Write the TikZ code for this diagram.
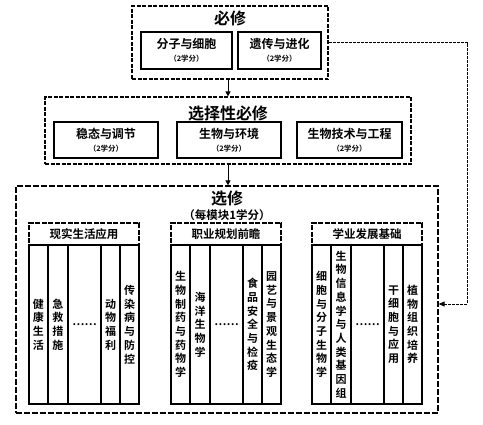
\documentclass[tikz,border=0pt]{standalone}
\usepackage{fontspec}
\setmainfont{Noto Sans CJK SC}[BoldFont={Noto Sans CJK SC Bold}]
\XeTeXlinebreaklocale "zh"
\XeTeXlinebreakskip=0pt plus 1pt
\usetikzlibrary{arrows.meta,positioning}

\begin{document}
\begin{tikzpicture}[
    x=1pt, y=-1pt,
    font=\bfseries,
    outerbox/.style={draw, dash pattern=on 4pt off 1.5pt, line width=1.2pt, inner sep=0pt},
    subbox/.style={draw, dash pattern=on 5pt off 1.5pt, line width=1.2pt, inner sep=0pt},
    course/.style={draw, line width=1.4pt, align=center, inner sep=0pt, minimum height=37pt,
        font=\bfseries\fontsize{12}{14}\selectfont},
    title/.style={inner sep=0pt, font=\bfseries\fontsize{16}{18}\selectfont},
    head/.style={inner sep=0pt, font=\bfseries\fontsize{11.5}{13}\selectfont},
    col/.style={draw, line width=1.2pt, minimum height=159pt, text width=12pt, align=center,
        inner sep=0pt, font=\bfseries\fontsize{11}{13.7}\selectfont},
    arr/.style={line width=1pt, -{Triangle[length=5pt,width=5pt]}},
    link/.style={line width=0.8pt, dash pattern=on 3pt off 1pt, -{Triangle[length=6pt,width=5pt]}}
]
\useasboundingbox (0,0) rectangle (483,424);
\newcommand{\xf}[1]{\\[-1pt]{\fontsize{7.5}{9}\selectfont #1}}

% required
\node[outerbox, minimum width=196pt, minimum height=73pt] (bixiu) at (230,42.5) {};
\node[title] (bixiut) at (230,18) {必修};
\node[course, minimum width=91pt] (fenzi) at (186.5,50.5) {分子与细胞\xf{（2学分）}};
\node[course, minimum width=83pt] (yichuan) at (279.5,50.5) {遗传与进化\xf{（2学分）}};

% selective required
\node[outerbox, minimum width=366pt, minimum height=67pt] (xzbx) at (228,130.5) {};
\node[title] (xzbxt) at (228,113) {选择性必修};
\node[course, minimum width=104pt, minimum height=36pt] (wentai) at (106,140) {稳态与调节\xf{（2学分）}};
\node[course, minimum width=104pt, minimum height=36pt] (huanjing) at (229,140) {生物与环境\xf{（2学分）}};
\node[course, minimum width=105pt, minimum height=36pt] (jishu) at (349.5,140) {生物技术与工程\xf{（2学分）}};

% elective
\node[outerbox, dash pattern=on 6pt off 2pt, minimum width=422pt, minimum height=227pt] (xuanxiu) at (227,299.5) {};
\node[title] (xuanxiut) at (227,198) {选修};
\node[head] (xuanxiuf) at (227,215) {（每模块1学分）};

\begin{scope}[shift={(29,223)}]
  \node[subbox, minimum width=110pt, minimum height=181pt] (shenghuo) at (55,90.5) {};
  \node[head] (shenghuot) at (55,11) {现实生活应用};
  \node[col, minimum width=19pt] (sh1) at (9.5,101.5) {健康生活};
  \node[col, minimum width=20pt] (sh2) at (29,101.5) {急救措施};
  \node[col, minimum width=33pt, text width=28pt] (sh3) at (55.5,101.5) {……};
  \node[col, minimum width=19pt] (sh4) at (81.5,101.5) {动物福利};
  \node[col, minimum width=19pt] (sh5) at (100.5,101.5) {传染病与防控};
\end{scope}

\begin{scope}[shift={(171,223)}]
  \node[subbox, minimum width=110pt, minimum height=181pt] (zhiye) at (55,90.5) {};
  \node[head] (zhiyet) at (55,11) {职业规划前瞻};
  \node[col, minimum width=19pt] (zy1) at (9.5,101.5) {生物制药与药物学};
  \node[col, minimum width=20pt] (zy2) at (29,101.5) {海洋生物学};
  \node[col, minimum width=33pt, text width=28pt] (zy3) at (55.5,101.5) {……};
  \node[col, minimum width=19pt] (zy4) at (81.5,101.5) {食品安全与检疫};
  \node[col, minimum width=19pt] (zy5) at (100.5,101.5) {园艺与景观生态学};
\end{scope}

\begin{scope}[shift={(312,223)}]
  \node[subbox, minimum width=110pt, minimum height=181pt] (xueye) at (55,90.5) {};
  \node[head] (xueyet) at (55,11) {学业发展基础};
  \node[col, minimum width=19pt] (xy1) at (9.5,101.5) {细胞与分子生物学};
  \node[col, minimum width=20pt] (xy2) at (29,101.5) {生物信息学与人类基因组};
  \node[col, minimum width=33pt, text width=28pt] (xy3) at (55.5,101.5) {……};
  \node[col, minimum width=19pt] (xy4) at (81.5,101.5) {干细胞与应用};
  \node[col, minimum width=19pt] (xy5) at (100.5,101.5) {植物组织培养};
\end{scope}

% connectors
\draw[arr] (bixiu.south -| xzbx.north) -- (xzbx.north);
\draw[arr] (xzbx.south) -- (xzbx.south |- xuanxiu.north);
\coordinate (turn) at (467,304);
\draw[link] (bixiu.east) -| (turn) -- (turn -| xuanxiu.east);
\end{tikzpicture}
\end{document}
